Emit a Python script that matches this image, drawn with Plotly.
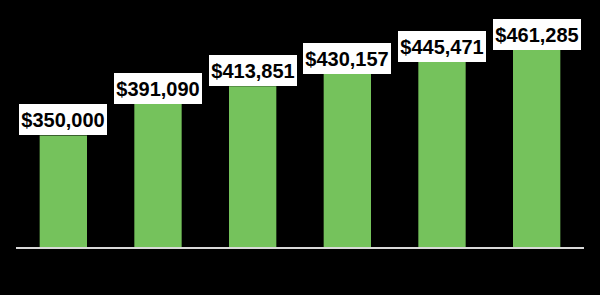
import plotly.graph_objects as go

categories = ["Y1", "Y2", "Y3", "Y4", "Y5", "Y6"]
values = [350000, 391090, 413851, 430157, 445471, 461285]
labels = ["$350,000", "$391,090", "$413,851", "$430,157", "$445,471", "$461,285"]

fig = go.Figure()
fig.add_trace(go.Bar(
    x=categories, y=values,
    marker=dict(color="#75C25C", line=dict(width=0)),
    hoverinfo="skip",
))

for c, v, t in zip(categories, values, labels):
    fig.add_annotation(
        x=c, y=v, text="<b>" + t + "</b>", showarrow=False,
        xanchor="center", yanchor="bottom",
        width=84, height=27,
        bgcolor="white", bordercolor="white", borderwidth=0, borderpad=2,
        font=dict(family="Liberation Sans, Arial, sans-serif", size=20, color="black"),
    )

fig.update_layout(
    width=600, height=295,
    margin=dict(l=16, r=16, t=10, b=48),
    paper_bgcolor="black", plot_bgcolor="black",
    bargap=0.5,
    showlegend=False,
    font=dict(family="Liberation Sans, Arial, sans-serif"),
)
fig.update_xaxes(showticklabels=False, showgrid=False, zeroline=False,
                 showline=True, linecolor="#D9D9D9", linewidth=1.5, ticks="")
fig.update_yaxes(range=[205000, 513000], showticklabels=False, showgrid=False,
                 zeroline=False, showline=False)

fig.write_html("out.html")
